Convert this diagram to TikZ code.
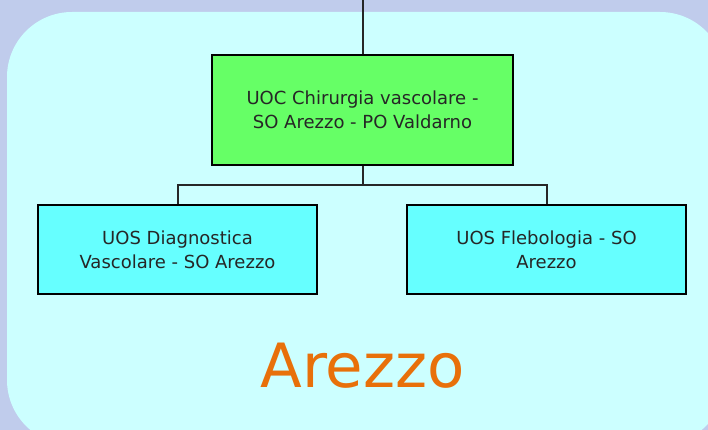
\documentclass[tikz,border=0pt]{standalone}
\usepackage{fontspec}
\setmainfont{DejaVu Sans}
\definecolor{outerbg}{HTML}{C0CCEC}
\definecolor{panel}{HTML}{CCFFFF}
\definecolor{greenbox}{HTML}{66FF66}
\definecolor{cyanbox}{HTML}{66FFFF}
\definecolor{orangetxt}{HTML}{E8700A}
\begin{document}
\begin{tikzpicture}[x=1pt,y=-1pt,
  unit/.style={draw=black, line width=1.6pt, minimum width=#1, align=center,
    font=\fontsize{18}{24}\selectfont, text=black!85, inner sep=0pt},
  link/.style={draw=black!85, line width=2pt}]
\useasboundingbox (0,0) rectangle (708,430);
\fill[outerbg] (0,0) rectangle (708,430);
\fill[panel, rounded corners=65pt] (7,12) rectangle (725,445);
\node[unit=301pt, fill=greenbox, minimum height=110pt] (uoc) at (362.5,110)
  {UOC Chirurgia vascolare -\\SO Arezzo - PO Valdarno};
\node[unit=279pt, fill=cyanbox, minimum height=89pt] (diag) at (177.5,249.5)
  {UOS Diagnostica\\Vascolare - SO Arezzo};
\node[unit=279pt, fill=cyanbox, minimum height=89pt] (fleb) at (546.5,249.5)
  {UOS Flebologia - SO\\Arezzo};
\coordinate (top) at (362.5,0);
\coordinate (mid) at (362.5,185);
\draw[link] (top) -- (uoc.north);
\draw[link] (uoc.south) -- (mid) -| (diag.north);
\draw[link] (mid) -| (fleb.north);
\node[text=orangetxt, font=\fontsize{61}{63}\selectfont] (title) at (362.5,366) {Arezzo};
\end{tikzpicture}
\end{document}
